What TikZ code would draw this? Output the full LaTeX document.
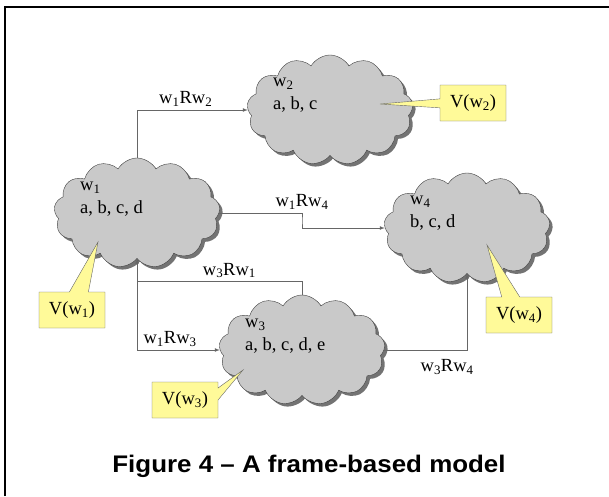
\documentclass[tikz,border=0pt]{standalone}
\usepackage{fontspec}
\setmainfont{Liberation Serif}
\newfontfamily\capfont{Liberation Sans}
\usetikzlibrary{shapes,shadows,calc,positioning}

\newcommand{\wsub}[1]{w\textsubscript{#1}}

\begin{document}
\begin{tikzpicture}[x = 1pt, y = -1pt, font = \fontsize{18.5}{22.5}\selectfont,
  world/.style = {cloud, cloud puffs = 13, cloud puff arc = 120, cloud ignores aspect, draw = black!75, fill = black!21, minimum width = 166pt, minimum height = 110pt, drop shadow = {shadow xshift = 3pt, shadow yshift = -3pt, fill = black!55, opacity = 1}},
  wtext/.style = {anchor = west, align = left, inner sep = 0pt},
  val/.style = {rectangle callout, draw = black!60, fill = yellow!40, minimum width = 66pt, minimum height = 36pt, inner sep = 0pt},
  rel/.style = {-latex, draw = black!60, line width = 0.7pt}]
\useasboundingbox (0,0) rectangle (609,496);
\draw[line width = 2pt] (5,496) -- (5,7) -- (609,7);

% worlds
\node[world] (w1) at (137,213) {};
\node[world] (w2) at (330,110) {};
\node[world] (w4) at (467,228) {};
\node[world] (w3) at (302,350) {};

\node[wtext] (t1) at ($(w1.center)+(-57,-14)$) {\wsub{1}\\a, b, c, d};
\node[wtext] (t2) at ($(w2.center)+(-57,-15)$) {\wsub{2}\\a, b, c};
\node[wtext] (t4) at ($(w4.center)+(-57,-15)$) {\wsub{4}\\b, c, d};
\node[wtext] (t3) at ($(w3.center)+(-57,-14)$) {\wsub{3}\\a, b, c, d, e};

% valuations
\coordinate (p1) at ($(w1.center)+(-39,29)$);
\coordinate (p2) at ($(w2.center)+(50,-6)$);
\coordinate (p3) at ($(w3.center)+(-59,20)$);
\coordinate (p4) at ($(w4.center)+(20,17)$);
\node[val, callout absolute pointer = (p1), callout pointer width = 19pt] (v1) at (72,310) {V(\wsub{1})};
\node[val, callout absolute pointer = (p2), callout pointer width = 9pt] (v2) at (473,103) {V(\wsub{2})};
\node[val, callout absolute pointer = (p3), callout pointer width = 12pt] (v3) at (185,400) {V(\wsub{3})};
\node[val, callout absolute pointer = (p4), callout pointer width = 18pt] (v4) at (519,315) {V(\wsub{4})};

% accessibility
\draw[rel] (w1.north) |- node[above, pos = 0.72] (l12) {\wsub{1}R\wsub{2}} (w2.west);
\draw[rel] (w1.east) -| node[above, pos = 0.5] (l14) {\wsub{1}R\wsub{4}} ($(w1.east)!.5!(w4.west)$) |- (w4.west);
\draw[rel] (w3.north) -- ++(0,-13) -| node[above, pos = 0.22] (l31) {\wsub{3}R\wsub{1}} (w1.south);
\draw[rel] (w1.south) |- node[above, pos = 0.7] (l13) {\wsub{1}R\wsub{3}} (w3.west);
\draw[rel] (w3.east) -| node[below = 6pt, pos = 0.38] (l34) {\wsub{3}R\wsub{4}} (w4.south);

\node[font = \capfont\bfseries\fontsize{24}{28}\selectfont, xscale = 1.08, transform shape] (cap) at (309,466) {Figure 4 – A frame-based model};
\end{tikzpicture}
\end{document}
